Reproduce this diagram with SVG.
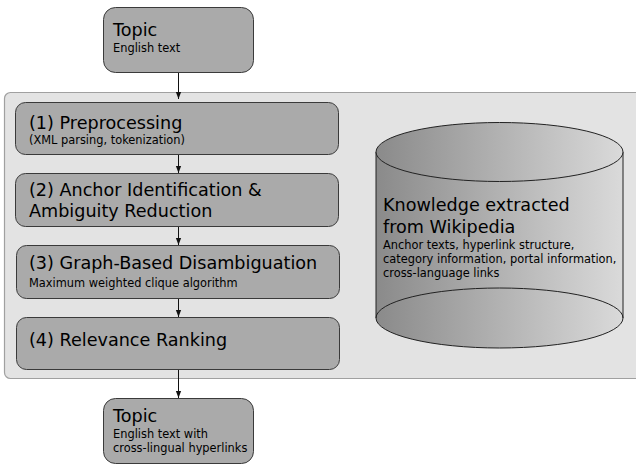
<svg xmlns="http://www.w3.org/2000/svg" width="636" height="466" viewBox="0 0 636 466">
<style>
.box{fill:#aaaaaa;stroke:#3a3a3a;stroke-width:1}
.t{font-family:"DejaVu Sans",sans-serif;fill:#000}
.h{font-size:17.6px}
.s{font-size:11.4px}
.c{fill:none;stroke:#111;stroke-width:1}
</style>
<defs>
<marker id="ah" viewBox="0 0 8 8" refX="8" refY="4" markerWidth="7" markerHeight="7" markerUnits="userSpaceOnUse" orient="auto">
<path d="M0,1 L8,4 L0,7 Z" fill="#111"/>
</marker>
<linearGradient id="g" x1="0" y1="0" x2="1" y2="0">
<stop offset="0" stop-color="#8a8a8a"/>
<stop offset="1" stop-color="#dadada"/>
</linearGradient>
</defs>
<g id="container">
<rect x="4.5" y="92.5" width="660" height="286" rx="6" fill="#e3e3e3" stroke="#a0a0a0" stroke-width="1.2"/>
</g>
<g id="connectors">
<line class="c" x1="178.5" y1="73" x2="178.5" y2="99" marker-end="url(#ah)"/>
<line class="c" x1="178.5" y1="155" x2="178.5" y2="173" marker-end="url(#ah)"/>
<line class="c" x1="178.5" y1="227" x2="178.5" y2="245" marker-end="url(#ah)"/>
<line class="c" x1="178.5" y1="299" x2="178.5" y2="317" marker-end="url(#ah)"/>
<line class="c" x1="178.5" y1="370" x2="178.5" y2="398" marker-end="url(#ah)"/>
</g>
<g id="topic-in">
<rect class="box" x="103.5" y="7.5" width="150" height="65" rx="12"/>
<text class="t h" x="113" y="36">Topic</text>
<text class="t s" x="113" y="52">English text</text>
</g>
<g id="step1">
<rect class="box" x="15.5" y="102.5" width="323" height="52" rx="10"/>
<text class="t h" x="29" y="129">(1) Preprocessing</text>
<text class="t s" x="29" y="144">(XML parsing, tokenization)</text>
</g>
<g id="step2">
<rect class="box" x="15.5" y="173.5" width="323" height="53" rx="10"/>
<text class="t h" x="29" y="196">(2) Anchor Identification &amp;</text>
<text class="t h" x="29" y="217">Ambiguity Reduction</text>
</g>
<g id="step3">
<rect class="box" x="16.5" y="245.5" width="323" height="53" rx="10"/>
<text class="t h" x="29" y="269">(3) Graph-Based Disambiguation</text>
<text class="t s" x="29" y="287">Maximum weighted clique algorithm</text>
</g>
<g id="step4">
<rect class="box" x="16.5" y="317.5" width="323" height="52" rx="10"/>
<text class="t h" x="29" y="346">(4) Relevance Ranking</text>
</g>
<g id="knowledge">
<path d="M376,152 L376,318 A123.5,30 0 0 0 623,318 L623,152" fill="url(#g)" stroke="#222" stroke-width="1"/>
<ellipse cx="499.5" cy="152" rx="123.5" ry="29.5" fill="url(#g)" stroke="#222" stroke-width="1"/>
<path d="M376,318 A123.5,30 0 0 1 623,318" fill="none" stroke="#222" stroke-width="1"/>
<text class="t h" x="383" y="211">Knowledge extracted</text>
<text class="t h" x="383" y="233">from Wikipedia</text>
<text class="t s" x="383" y="249">Anchor texts, hyperlink structure,</text>
<text class="t s" x="383" y="263">category information, portal information,</text>
<text class="t s" x="383" y="277">cross-language links</text>
</g>
<g id="topic-out">
<rect class="box" x="103.5" y="398.5" width="150" height="65" rx="12"/>
<text class="t h" x="113" y="422">Topic</text>
<text class="t s" x="113" y="438">English text with</text>
<text class="t s" x="113" y="452">cross-lingual hyperlinks</text>
</g>
</svg>
